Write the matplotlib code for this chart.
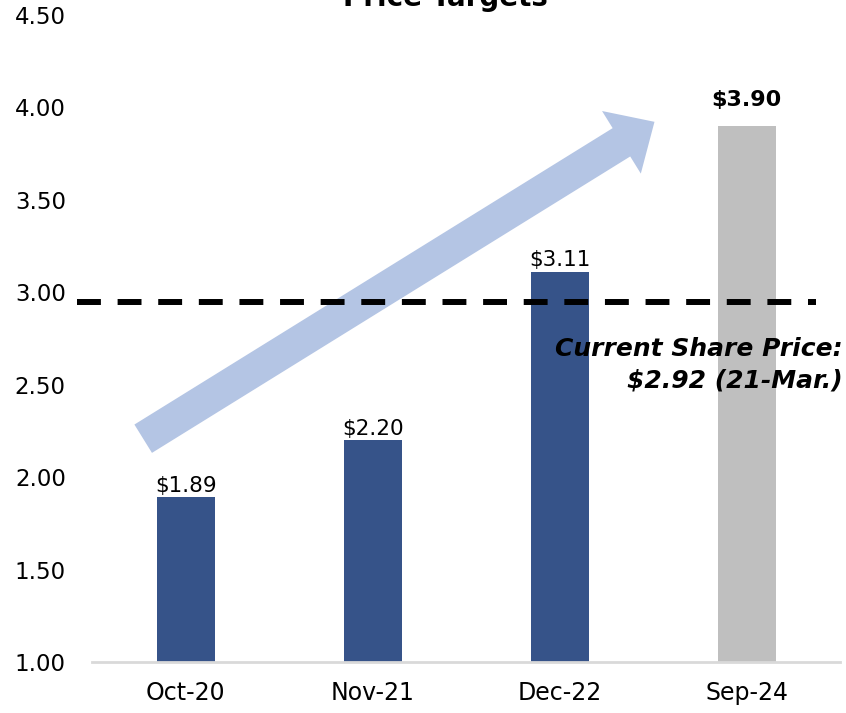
import matplotlib
matplotlib.use('Agg')
import matplotlib.pyplot as plt

# dados
categorias = ['Oct-20', 'Nov-21', 'Dec-22', 'Sep-24']
precos = [1.89, 2.20, 3.11, 3.90]
cores = ['#365389', '#365389', '#365389', '#BFBFBF']
linha_preco_atual = 2.95
texto_preco_atual = 'Current Share Price:\n$2.92 (21-Mar.)'
yticks = [1.00, 1.50, 2.00, 2.50, 3.00, 3.50, 4.00, 4.50]

plt.rcParams['font.family'] = ['DejaVu Sans']

fig = plt.figure(figsize=(8.46, 7.13), dpi=100)
ax = fig.add_axes([0.109, 0.0715, 0.884, 0.9075])

x = range(len(categorias))
ax.bar(x, precos, width=0.31, color=cores, zorder=2)

# rótulos das barras
for i, v in enumerate(precos):
    ultimo = i == len(precos) - 1
    ax.annotate(f'${v:.2f}', xy=(i, v), xytext=(0, 14 if ultimo else 4),
                textcoords='offset points', ha='center', va='baseline',
                fontsize=16 if ultimo else 15.5,
                fontweight='bold' if ultimo else 'normal', zorder=5)

# seta de tendência
ax.annotate('', xy=(2.52, 3.93), xytext=(-0.24, 2.20),
            arrowprops=dict(arrowstyle='simple,head_width=53,head_length=28,tail_width=24',
                            mutation_scale=1, color='#B4C5E4', lw=0),
            zorder=1)

# linha do preço atual
ax.plot([-0.58, 3.37], [linha_preco_atual] * 2, color='black', lw=4.3,
        linestyle=(0, (4, 2.8)), zorder=4, clip_on=False)
ax.text(3.516, 2.61, texto_preco_atual, ha='right', va='center',
        fontsize=18, fontweight='bold', fontstyle='italic', linespacing=1.4,
        zorder=5)

ax.set_xlim(-0.5, 3.5)
ax.set_ylim(1.0, 4.5)
ax.set_xticks(list(x))
ax.set_xticklabels(categorias, fontsize=17)
ax.set_yticks(yticks)
ax.set_yticklabels([f'{t:.2f}' for t in yticks], fontsize=16.5)
ax.tick_params(axis='both', length=0)
ax.tick_params(axis='y', pad=19)
ax.tick_params(axis='x', pad=14)

for lado in ['top', 'right', 'left']:
    ax.spines[lado].set_visible(False)
ax.spines['bottom'].set_color('#D9D9D9')
ax.spines['bottom'].set_linewidth(2)

fig.text(0.527, 0.992, 'Price Targets', ha='center', va='baseline',
         fontsize=20, fontweight='bold')

fig.savefig('out.png', dpi=100)
